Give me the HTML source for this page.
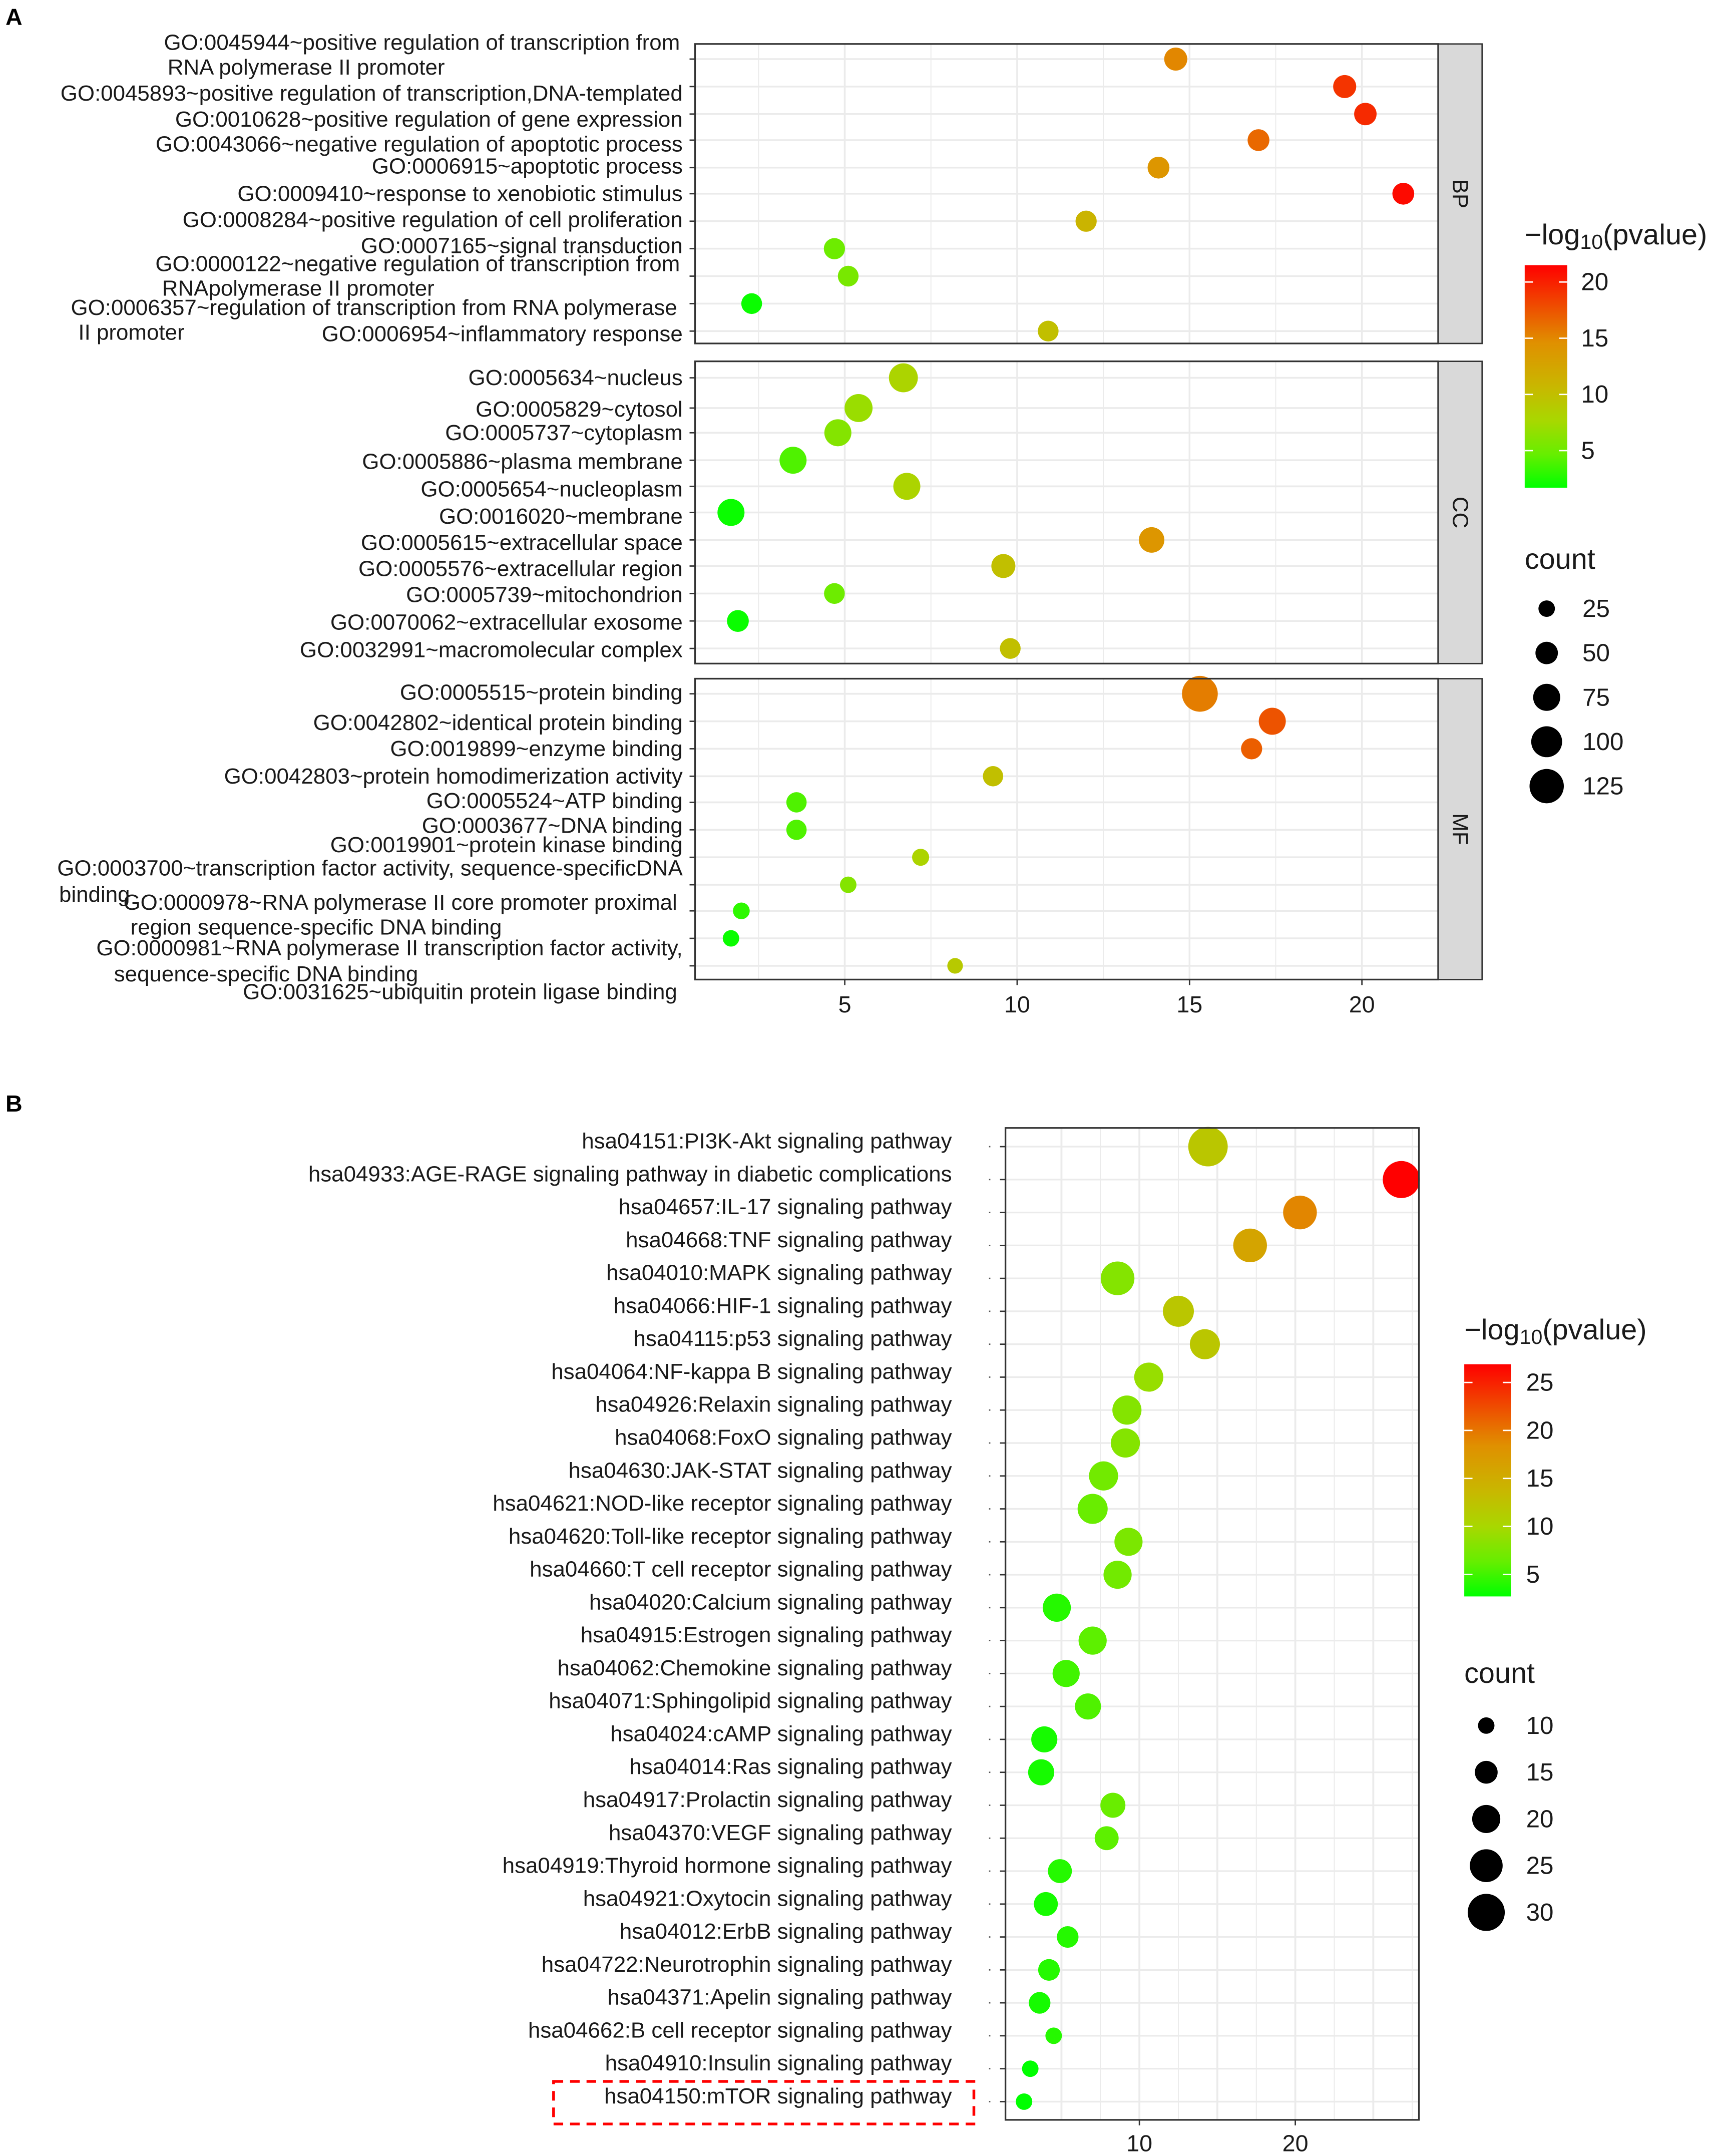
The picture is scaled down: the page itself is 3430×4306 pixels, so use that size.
<!DOCTYPE html>
<html><head><meta charset="utf-8"><style>
html,body{margin:0;padding:0;background:#fff;}
svg{display:block;font-family:"Liberation Sans",Arial,sans-serif;}
</style></head><body>
<svg id="fig" xmlns="http://www.w3.org/2000/svg" width="3430" height="4306" viewBox="0 0 1250 1569.3" preserveAspectRatio="none">
<defs>
<linearGradient id="gradA" x1="0" y1="1" x2="0" y2="0">
<stop offset="0" stop-color="#00ff00"/><stop offset="0.15" stop-color="#66ee00"/><stop offset="0.3" stop-color="#a8d800"/><stop offset="0.45" stop-color="#c8b800"/><stop offset="0.65" stop-color="#e09000"/><stop offset="1" stop-color="#ff0000"/>
</linearGradient>
</defs>
<rect x="0" y="0" width="1250" height="1569.3" fill="#fff"/>
<text x="4" y="18" font-size="17" font-weight="bold">A</text>
<text x="4" y="809" font-size="17" font-weight="bold">B</text>
<g id="panelA"></g>
<g id="panelB"></g>
<rect x="403" y="1515" width="306" height="31" fill="none" stroke="#ff0000" stroke-width="2" stroke-dasharray="7,5"/>
</svg>
<script>
// ---- Panel A data ----
const bpTerms = ["GO:0045944","GO:0045893","GO:0010628","GO:0043066","GO:0006915","GO:0009410","GO:0008284","GO:0007165","GO:0000122","GO:0006357","GO:0006954"];
const bpFold = [14.6,19.5,20.1,17.0,14.1,21.2,12.0,4.7,5.1,2.3,10.9];
const bpLogP = [15,19,19.5,16.5,14,21,11,5,5.5,2,10];
const bpCount = [53,53,50,47,47,47,44,44,42,42,42];
const ccTerms = ["GO:0005634","GO:0005829","GO:0005737","GO:0005886","GO:0005654","GO:0016020","GO:0005615","GO:0005576","GO:0005739","GO:0070062","GO:0032991"];
const ccFold = [6.7,5.4,4.8,3.5,6.8,1.7,13.9,9.6,4.7,1.9,9.8];
const ccLogP = [8,7,6,4,8,2,14,10,5,2,10];
const ccCount = [87,81,75,75,75,75,66,58,42,47,42];
const mfTerms = ["GO:0005515","GO:0042802","GO:0019899","GO:0042803","GO:0005524","GO:0003677","GO:0019901","GO:0003700","GO:0000978","GO:0000981","GO:0031625"];
const mfFold = [15.3,17.4,16.8,9.3,3.6,3.6,7.2,5.1,2.0,1.7,8.2];
const mfLogP = [15.5,17.5,17,10,4,4,8,6,3,2,9];
const mfCount = [137,75,44,40,40,40,27,25,26,25,22];
const xTicksA = [5,10,15,20];
const colorTicksA = [5,10,15,20];
const sizeTicksA = [25,50,75,100,125];
// ---- Panel B data ----
const keggNames = ["hsa04151:PI3K-Akt signaling pathway","hsa04933:AGE-RAGE signaling pathway in diabetic complications","hsa04657:IL-17 signaling pathway","hsa04668:TNF signaling pathway","hsa04010:MAPK signaling pathway","hsa04066:HIF-1 signaling pathway","hsa04115:p53 signaling pathway","hsa04064:NF-kappa B signaling pathway","hsa04926:Relaxin signaling pathway","hsa04068:FoxO signaling pathway","hsa04630:JAK-STAT signaling pathway","hsa04621:NOD-like receptor signaling pathway","hsa04620:Toll-like receptor signaling pathway","hsa04660:T cell receptor signaling pathway","hsa04020:Calcium signaling pathway","hsa04915:Estrogen signaling pathway","hsa04062:Chemokine signaling pathway","hsa04071:Sphingolipid signaling pathway","hsa04024:cAMP signaling pathway","hsa04014:Ras signaling pathway","hsa04917:Prolactin signaling pathway","hsa04370:VEGF signaling pathway","hsa04919:Thyroid hormone signaling pathway","hsa04921:Oxytocin signaling pathway","hsa04012:ErbB signaling pathway","hsa04722:Neurotrophin signaling pathway","hsa04371:Apelin signaling pathway","hsa04662:B cell receptor signaling pathway","hsa04910:Insulin signaling pathway","hsa04150:mTOR signaling pathway"];
const keggFold = [14.4,26.8,20.3,17.1,8.6,12.5,14.2,10.6,9.2,9.1,7.7,7.0,9.3,8.6,4.7,7.0,5.3,6.7,3.9,3.7,8.3,7.9,4.9,4.0,5.4,4.2,3.6,4.5,3.0,2.6];
const keggLogP = [12,27,19,16,8,12,12,9,8,8,7,6.5,7.5,7,4,6,5,5.5,3.5,3.5,6.5,6,4,3.5,4,4,3.5,4,2.5,2];
const keggCount = [33,30,26,26,26,23,22,21,21,21,21,22,20,20,20,20,19,18,18,18,17,16,16,16,14,14,14,10,10,10];
const xTicksB = [10,20];
const colorTicksB = [5,10,15,20,25];
const sizeTicksB = [10,15,20,25,30];

const NS="http://www.w3.org/2000/svg";
function mk(parent,tag,attrs,text){const e=document.createElementNS(NS,tag);for(const k in attrs)e.setAttribute(k,attrs[k]);if(text!==undefined)e.textContent=text;parent.appendChild(e);return e;}
const stops=[[0,[0,255,0]],[0.15,[102,238,0]],[0.3,[168,216,0]],[0.45,[200,184,0]],[0.65,[224,144,0]],[1,[255,0,0]]];
function colorOf(v,lo,hi){let t=Math.max(0,Math.min(1,(v-lo)/(hi-lo)));for(let i=1;i<stops.length;i++){if(t<=stops[i][0]){const a=stops[i-1],b=stops[i];const f=(t-a[0])/(b[0]-a[0]);const c=a[1].map((x,j)=>Math.round(x+(b[1][j]-x)*f));return "rgb("+c.join(",")+")";}}return "rgb(255,0,0)";}

// ===== Panel A =====
const A=document.getElementById('panelA');
const axL=506, axR=1047, stripR=1079;
const xA=v=>489.5+25.1*v;
const rA=c=>6+1.05*(Math.sqrt(c)-5);
const loA=1.7, hiA=21.5;
const FS=16;
const facets=[
 {name:"BP",top:32,bot:250,rows:[43,63,83,102,122,141,161,181,201,221,241],terms:bpTerms,fold:bpFold,logp:bpLogP,count:bpCount},
 {name:"CC",top:263,bot:483,rows:[275,297,315,335,354,373,393,412,432,452,472],terms:ccTerms,fold:ccFold,logp:ccLogP,count:ccCount},
 {name:"MF",top:494,bot:713,rows:[505,525,545,565,584,604,624,644,663,683,703],terms:mfTerms,fold:mfFold,logp:mfLogP,count:mfCount}
];
facets.forEach(f=>{
  const g=mk(A,'g',{});
  
  
  mk(g,'rect',{x:axL,y:f.top,width:axR-axL,height:f.bot-f.top,fill:"#fff"});
  for(let v=2.5;v<=22.5;v+=2.5){const x=xA(v);if(x>axL&&x<axR){const major=(v%5===0);mk(g,'line',{x1:x,x2:x,y1:f.top,y2:f.bot,stroke:"#ebebeb","stroke-width":major?1.3:0.7});}}
  f.rows.forEach(y=>{mk(g,'line',{x1:axL,x2:axR,y1:y,y2:y,stroke:"#ebebeb","stroke-width":1.3});mk(g,'line',{x1:axL-4,x2:axL,y1:y,y2:y,stroke:"#333","stroke-width":1});});
  f.fold.forEach((v,i)=>{const c=mk(g,'circle',{cx:xA(v),cy:f.rows[i],r:rA(f.count[i]),fill:colorOf(f.logp[i],loA,hiA)});
    
    });
  mk(g,'rect',{x:axL,y:f.top,width:axR-axL,height:f.bot-f.top,fill:"none",stroke:"#333","stroke-width":1.2});
  const s=mk(g,'rect',{x:axR,y:f.top,width:stripR-axR,height:f.bot-f.top,fill:"#d9d9d9",stroke:"#333","stroke-width":1});
  
  
  const cy=(f.top+f.bot)/2;
  mk(g,'text',{x:stripR-16,y:cy,"font-size":16,fill:"#1a1a1a","text-anchor":"middle","dominant-baseline":"central",transform:`rotate(90 ${stripR-16} ${cy})`},f.name);
});
const labA=[
 ["end",495,31,"GO:0045944~positive regulation of transcription from"],["start",122,49,"RNA polymerase II promoter"],
 ["end",497,68,"GO:0045893~positive regulation of transcription,DNA-templated"],
 ["end",497,87,"GO:0010628~positive regulation of gene expression"],
 ["end",497,105,"GO:0043066~negative regulation of apoptotic process"],
 ["end",497,121,"GO:0006915~apoptotic process"],
 ["end",497,141,"GO:0009410~response to xenobiotic stimulus"],
 ["end",497,160,"GO:0008284~positive regulation of cell proliferation"],
 ["end",497,179,"GO:0007165~signal transduction"],
 ["end",495,192,"GO:0000122~negative regulation of transcription from"],["start",118,210,"RNApolymerase II promoter"],
 ["end",493,224,"GO:0006357~regulation of transcription from RNA polymerase"],["start",57,242,"II promoter"],
 ["end",497,243,"GO:0006954~inflammatory response"],
 ["end",497,275,"GO:0005634~nucleus"],["end",497,298,"GO:0005829~cytosol"],["end",497,315,"GO:0005737~cytoplasm"],
 ["end",497,336,"GO:0005886~plasma membrane"],["end",497,356,"GO:0005654~nucleoplasm"],["end",497,376,"GO:0016020~membrane"],
 ["end",497,395,"GO:0005615~extracellular space"],["end",497,414,"GO:0005576~extracellular region"],["end",497,433,"GO:0005739~mitochondrion"],
 ["end",497,453,"GO:0070062~extracellular exosome"],["end",497,473,"GO:0032991~macromolecular complex"],
 ["end",497,504,"GO:0005515~protein binding"],["end",497,526,"GO:0042802~identical protein binding"],["end",497,545,"GO:0019899~enzyme binding"],
 ["end",497,565,"GO:0042803~protein homodimerization activity"],["end",497,583,"GO:0005524~ATP binding"],["end",497,601,"GO:0003677~DNA binding"],
 ["end",497,615,"GO:0019901~protein kinase binding"],
 ["end",497,632,"GO:0003700~transcription factor activity, sequence-specificDNA"],["start",43,651,"binding"],
 ["end",493,657,"GO:0000978~RNA polymerase II core promoter proximal"],["start",95,675,"region sequence-specific DNA binding"],
 ["end",497,690,"GO:0000981~RNA polymerase II transcription factor activity,"],["start",83,709,"sequence-specific DNA binding"],
 ["end",493,722,"GO:0031625~ubiquitin protein ligase binding"]
];
labA.forEach(l=>{const t=mk(A,'text',{x:l[1],y:l[2],"font-size":FS,fill:"#1a1a1a","text-anchor":l[0],"dominant-baseline":"central"},l[3]);
  
  });
xTicksA.forEach(v=>{mk(A,'line',{x1:xA(v),x2:xA(v),y1:713,y2:717,stroke:"#333","stroke-width":1});
  const t=mk(A,'text',{x:xA(v),y:731,"font-size":17,fill:"#1a1a1a","text-anchor":"middle","dominant-baseline":"central"},String(v));
  
  });
mk(A,'text',{x:1110,y:171,"font-size":21,fill:"#1a1a1a","dominant-baseline":"central"}).innerHTML='−log<tspan font-size="15" dy="5">10</tspan><tspan dy="-5">(pvalue)</tspan>';
const cbA=mk(A,'rect',{x:1110,y:193,width:31,height:162,fill:"url(#gradA)"});


const cyA=v=>355-(v-loA)/(hiA-loA)*162;
colorTicksA.forEach(v=>{mk(A,'line',{x1:1110,x2:1116,y1:cyA(v),y2:cyA(v),stroke:"#fff","stroke-width":1});mk(A,'line',{x1:1135,x2:1141,y1:cyA(v),y2:cyA(v),stroke:"#fff","stroke-width":1});
  mk(A,'text',{x:1151,y:cyA(v),"font-size":18,fill:"#1a1a1a","dominant-baseline":"central"},String(v));});
mk(A,'text',{x:1110,y:407,"font-size":21,fill:"#1a1a1a","dominant-baseline":"central"},"count");
sizeTicksA.forEach((v,i)=>{const y=443+i*32.3;const c=mk(A,'circle',{cx:1126,cy:y,r:rA(v),fill:"#000"});
  
  
  mk(A,'text',{x:1152,y:y,"font-size":18,fill:"#1a1a1a","dominant-baseline":"central"},String(v));});

// ===== Panel B =====
const B=document.getElementById('panelB');
const bL=732, bR=1033, bT=821, bB=1543;
const xB=v=>716+11.35*v;
const yB=i=>834.6+i*23.97;
const rB=c=>6+3.24*(Math.sqrt(c)-Math.sqrt(10));
const loB=2.7, hiB=26.9;
mk(B,'rect',{x:bL,y:bT,width:bR-bL,height:bB-bT,fill:"#fff"});
for(let v=5;v<=27.5;v+=2.5){const x=xB(v);if(x>bL&&x<bR){const major=(v%5===0);mk(B,'line',{x1:x,x2:x,y1:bT,y2:bB,stroke:"#ebebeb","stroke-width":major?1.4:0.7});}}
keggNames.forEach((n,i)=>{const y=yB(i);mk(B,'line',{x1:bL,x2:bR,y1:y,y2:y,stroke:"#ebebeb","stroke-width":1.2});
  mk(B,'line',{x1:bL-4,x2:bL,y1:y,y2:y,stroke:"#333","stroke-width":1});
  mk(B,'line',{x1:720,x2:721,y1:y,y2:y,stroke:"#555","stroke-width":1});
  const t=mk(B,'text',{x:693,y:y-4,"font-size":FS,fill:"#1a1a1a","text-anchor":"end","dominant-baseline":"central"},n);
  
  });
keggFold.forEach((v,i)=>{const c=mk(B,'circle',{cx:xB(v),cy:yB(i),r:rB(keggCount[i]),fill:colorOf(keggLogP[i],loB,hiB)});
  
  });
mk(B,'rect',{x:bL,y:bT,width:bR-bL,height:bB-bT,fill:"none",stroke:"#333","stroke-width":1.2});
xTicksB.forEach(v=>{mk(B,'line',{x1:xB(v),x2:xB(v),y1:bB,y2:bB+4,stroke:"#333","stroke-width":1});
  const t=mk(B,'text',{x:xB(v),y:1560,"font-size":17,fill:"#1a1a1a","text-anchor":"middle","dominant-baseline":"central"},String(v));
  
  });
mk(B,'text',{x:1066,y:968,"font-size":21,fill:"#1a1a1a","dominant-baseline":"central"}).innerHTML='−log<tspan font-size="15" dy="5">10</tspan><tspan dy="-5">(pvalue)</tspan>';
const cbB=mk(B,'rect',{x:1066,y:993,width:34,height:169,fill:"url(#gradA)"});


const cyB=v=>1162-(v-loB)/(hiB-loB)*169;
colorTicksB.forEach(v=>{mk(B,'line',{x1:1066,x2:1072,y1:cyB(v),y2:cyB(v),stroke:"#fff","stroke-width":1});mk(B,'line',{x1:1094,x2:1100,y1:cyB(v),y2:cyB(v),stroke:"#fff","stroke-width":1});
  mk(B,'text',{x:1111,y:cyB(v),"font-size":18,fill:"#1a1a1a","dominant-baseline":"central"},String(v));});
mk(B,'text',{x:1066,y:1218,"font-size":21,fill:"#1a1a1a","dominant-baseline":"central"},"count");
sizeTicksB.forEach((v,i)=>{const y=1256+i*34;const c=mk(B,'circle',{cx:1082,cy:y,r:rB(v),fill:"#000"});
  
  
  mk(B,'text',{x:1111,y:y,"font-size":18,fill:"#1a1a1a","dominant-baseline":"central"},String(v));});
</script>
</body></html>
